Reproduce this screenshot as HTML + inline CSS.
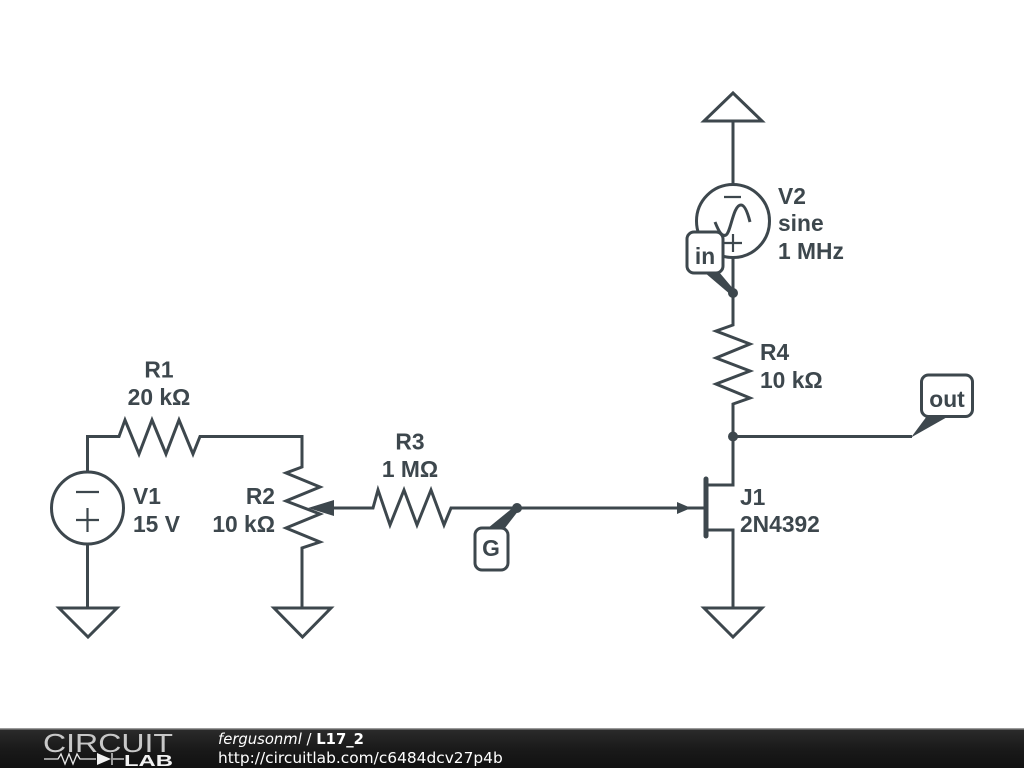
<!DOCTYPE html>
<html><head><meta charset="utf-8"><title>L17_2</title>
<style>html,body{margin:0;padding:0;background:#fff;width:1024px;height:768px;overflow:hidden}svg{display:block}</style>
</head><body>
<svg width="1024" height="768" viewBox="0 0 1024 768" xmlns="http://www.w3.org/2000/svg">
<defs><linearGradient id="f" x1="0" y1="0" x2="0" y2="1"><stop offset="0" stop-color="#2b2b2b"/><stop offset="0.5" stop-color="#1a1a1a"/><stop offset="1" stop-color="#111"/></linearGradient></defs>
<g fill="none" stroke="#3d474d" stroke-width="3" stroke-linejoin="miter" stroke-linecap="butt">
<path d="M87.5 472V436.5H119L125 420L139 454L152 420L166 454L179 420L193 454L200 436.5H302V467L286 473L320 487L286 501L320 514L286 528L320 542L302 548V608"/>
<circle cx="87.5" cy="508" r="36"/>
<path d="M87.5 544V608"/>
<path d="M76 492H99M76 520H99M87.5 508V532" stroke-width="2.200"/>
<path d="M59 608H117L88 637Z"/>
<path d="M274 608H331L302.500 637Z"/>
<path d="M330 508H373L378 490L390 525L404 490L417 525L431 490L444 525L451 508H704"/>
<path d="M733 258V325L716 331L750 344L716 358L750 371L716 384L750 398L733 404V485H706M706 530H733V608"/>
<path d="M733 436.500H912"/>
<path d="M704 608H762L733 637Z"/>
<path d="M704 121H762L733 93Z"/>
<path d="M733 121V185"/>
<circle cx="733" cy="221" r="36.500"/>
<path d="M724 197H741M724 243H742M733 234V252" stroke-width="2.200"/>
<path d="M715 222C719 232 722 237 726 235C731 232 733 205 741 205C745 205 748 214 750 222"/>
<path d="M706 479V536" stroke-width="5" stroke-linecap="round"/>
</g>
<g fill="#3d474d" stroke="none">
<path d="M308 508L334 500V516Z"/>
<path d="M677 502L691 508L677 514Z"/>
<circle cx="733" cy="293" r="5"/><circle cx="733" cy="436.500" r="5"/><circle cx="517" cy="508" r="5"/>
<path d="M704 272L719 272L735 291L731 295Z"/>
<path d="M911 437.500L927 416L949 416Z"/>
<path d="M488 528L505 528L519 510L515 506Z"/>
</g>
<g fill="#fff" stroke="#3d474d" stroke-width="3">
<rect x="687" y="232" width="36" height="41" rx="7"/>
<rect x="921.500" y="375" width="51" height="41.500" rx="7"/>
<rect x="475" y="528" width="33" height="42" rx="7"/>
</g>
<g font-family="'Liberation Sans',sans-serif" font-weight="bold" font-size="22.800" fill="#3d474d" stroke="none">
<text x="159" y="377.500" text-anchor="middle">R1</text>
<text x="159" y="405" text-anchor="middle">20 kΩ</text>
<text x="133" y="504">V1</text>
<text x="133" y="532">15 V</text>
<text x="275" y="504" text-anchor="end">R2</text>
<text x="275" y="532" text-anchor="end">10 kΩ</text>
<text x="410" y="449.500" text-anchor="middle">R3</text>
<text x="410" y="477" text-anchor="middle">1 MΩ</text>
<text x="778" y="204">V2</text>
<text x="778" y="231">sine</text>
<text x="778" y="259">1 MHz</text>
<text x="760" y="360">R4</text>
<text x="760" y="388">10 kΩ</text>
<text x="740" y="505">J1</text>
<text x="740" y="532">2N4392</text>
<text x="705" y="264" text-anchor="middle">in</text>
<text x="947" y="407" text-anchor="middle">out</text>
<text x="491" y="556" text-anchor="middle">G</text>
</g>
<rect x="0" y="729" width="1024" height="39" fill="url(#f)"/>
<rect x="0" y="728" width="1024" height="1.500" fill="#9a9a9a"/>
<text x="43" y="752" font-family="'Liberation Sans',sans-serif" font-size="26" textLength="130" lengthAdjust="spacingAndGlyphs" fill="#c8c8c8">CIRCUIT</text>
<text x="124" y="766" font-family="'Liberation Sans',sans-serif" font-weight="bold" font-size="16" textLength="49" lengthAdjust="spacingAndGlyphs" fill="#f2f2f2">LAB</text>
<path d="M44 759H58L61 754L65 764L69 754L73 764L77 754L80 759H96M113 759H124M112 753V765" fill="none" stroke="#e8e8e8" stroke-width="1.300"/>
<path d="M97 753L111 759L97 765Z" fill="#f2f2f2"/>
<text x="218" y="744" font-family="'DejaVu Sans',sans-serif" font-size="14.800" fill="#fff"><tspan font-style="italic">fergusonml</tspan> / <tspan font-weight="bold">L17_2</tspan></text>
<text x="218" y="763" font-family="'DejaVu Sans',sans-serif" font-size="15.400" fill="#fff">http://circuitlab.com/c6484dcv27p4b</text>
</svg>
</body></html>
